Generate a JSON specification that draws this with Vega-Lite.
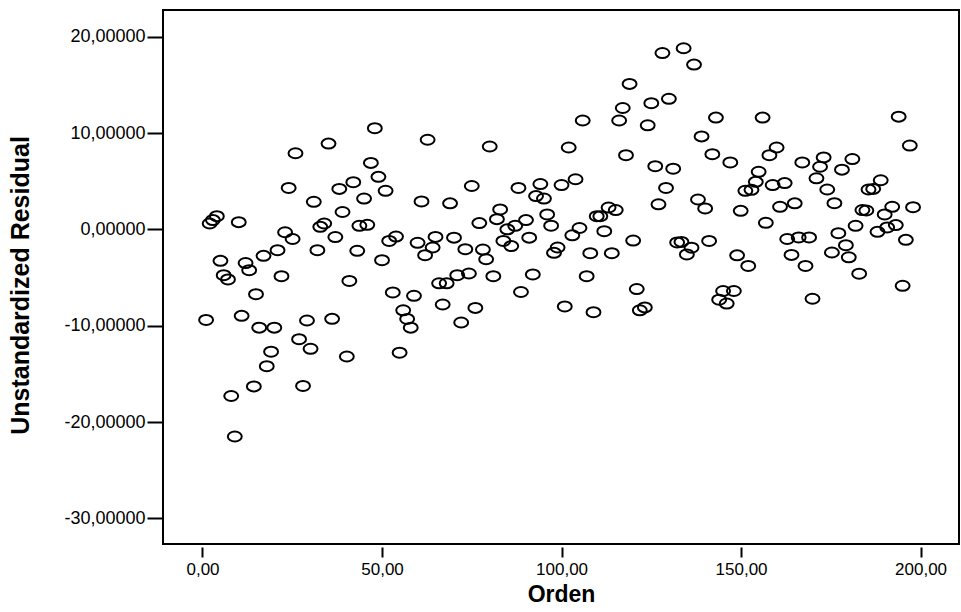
{
  "$schema": "https://vega.github.io/schema/vega-lite/v6.json",
  "width": 796,
  "height": 534,
  "autosize": {"type": "none"},
  "padding": {"left": 163, "top": 10, "right": 2, "bottom": 68},
  "background": "white",
  "config": {
    "view": {"stroke": "black", "strokeWidth": 2},
    "axis": {"labelFont": "Liberation Sans", "titleFont": "Liberation Sans", "labelColor": "black", "titleColor": "black", "tickColor": "black", "grid": false, "domain": false}
  },
  "data": {
    "values": [
      {"orden": 1.0, "resid": -9.4}, {"orden": 2.0, "resid": 0.61}, {"orden": 2.9, "resid": 0.96}, {"orden": 4.0, "resid": 1.37},
      {"orden": 5.0, "resid": -3.27}, {"orden": 5.9, "resid": -4.76}, {"orden": 7.1, "resid": -5.2}, {"orden": 8.0, "resid": -17.3},
      {"orden": 9.0, "resid": -21.5}, {"orden": 10.1, "resid": 0.75}, {"orden": 10.9, "resid": -8.98}, {"orden": 12.0, "resid": -3.5},
      {"orden": 13.0, "resid": -4.24}, {"orden": 14.3, "resid": -16.3}, {"orden": 14.9, "resid": -6.73}, {"orden": 15.8, "resid": -10.2},
      {"orden": 17.0, "resid": -2.75}, {"orden": 17.9, "resid": -14.2}, {"orden": 19.1, "resid": -12.7}, {"orden": 20.0, "resid": -10.2},
      {"orden": 20.9, "resid": -2.16}, {"orden": 22.0, "resid": -4.86}, {"orden": 23.0, "resid": -0.3}, {"orden": 24.0, "resid": 4.3},
      {"orden": 25.1, "resid": -1.0}, {"orden": 25.9, "resid": 7.9}, {"orden": 26.9, "resid": -11.4}, {"orden": 28.0, "resid": -16.25},
      {"orden": 29.1, "resid": -9.46}, {"orden": 30.1, "resid": -12.4}, {"orden": 31.0, "resid": 2.86}, {"orden": 32.0, "resid": -2.16},
      {"orden": 32.8, "resid": 0.26}, {"orden": 33.9, "resid": 0.61}, {"orden": 35.1, "resid": 8.9}, {"orden": 36.1, "resid": -9.29},
      {"orden": 37.0, "resid": -0.8}, {"orden": 38.1, "resid": 4.2}, {"orden": 39.0, "resid": 1.8}, {"orden": 40.2, "resid": -13.2},
      {"orden": 40.9, "resid": -5.35}, {"orden": 42.0, "resid": 4.9}, {"orden": 43.1, "resid": -2.23}, {"orden": 43.7, "resid": 0.37},
      {"orden": 45.0, "resid": 3.2}, {"orden": 45.9, "resid": 0.47}, {"orden": 46.9, "resid": 6.9}, {"orden": 48.0, "resid": 10.5},
      {"orden": 49.0, "resid": 5.45}, {"orden": 50.0, "resid": -3.2}, {"orden": 51.0, "resid": 4.0}, {"orden": 52.0, "resid": -1.2},
      {"orden": 53.0, "resid": -6.55}, {"orden": 53.9, "resid": -0.75}, {"orden": 54.9, "resid": -12.8}, {"orden": 55.9, "resid": -8.4},
      {"orden": 57.0, "resid": -9.3}, {"orden": 58.0, "resid": -10.2}, {"orden": 58.9, "resid": -6.9}, {"orden": 59.9, "resid": -1.4},
      {"orden": 61.0, "resid": 2.9}, {"orden": 62.0, "resid": -2.68}, {"orden": 62.7, "resid": 9.3}, {"orden": 64.1, "resid": -1.88},
      {"orden": 64.9, "resid": -0.78}, {"orden": 65.9, "resid": -5.6}, {"orden": 66.9, "resid": -7.8}, {"orden": 68.0, "resid": -5.6},
      {"orden": 68.95, "resid": 2.7}, {"orden": 70.05, "resid": -0.86}, {"orden": 70.95, "resid": -4.76}, {"orden": 72.05, "resid": -9.67},
      {"orden": 73.2, "resid": -2.06}, {"orden": 74.2, "resid": -4.58}, {"orden": 75.0, "resid": 4.5}, {"orden": 76.0, "resid": -8.15},
      {"orden": 77.1, "resid": 0.65}, {"orden": 78.1, "resid": -2.1}, {"orden": 79.0, "resid": -3.1}, {"orden": 80.0, "resid": 8.6},
      {"orden": 81.0, "resid": -4.86}, {"orden": 82.0, "resid": 1.06}, {"orden": 82.9, "resid": 2.07}, {"orden": 83.8, "resid": -1.2},
      {"orden": 84.9, "resid": 0.0}, {"orden": 86.0, "resid": -1.74}, {"orden": 87.1, "resid": 0.37}, {"orden": 88.0, "resid": 4.3},
      {"orden": 88.7, "resid": -6.5}, {"orden": 90.1, "resid": 0.96}, {"orden": 91.0, "resid": -0.86}, {"orden": 92.0, "resid": -4.68},
      {"orden": 92.9, "resid": 3.45}, {"orden": 94.1, "resid": 4.7}, {"orden": 95.1, "resid": 3.2}, {"orden": 96.0, "resid": 1.55},
      {"orden": 97.1, "resid": 0.38}, {"orden": 97.9, "resid": -2.44}, {"orden": 98.9, "resid": -1.88}, {"orden": 100.0, "resid": 4.6},
      {"orden": 100.9, "resid": -8.0}, {"orden": 102.0, "resid": 8.5}, {"orden": 103.0, "resid": -0.62}, {"orden": 103.9, "resid": 5.2},
      {"orden": 105.0, "resid": 0.14}, {"orden": 105.9, "resid": 11.3}, {"orden": 107.0, "resid": -4.86}, {"orden": 108.0, "resid": -2.47},
      {"orden": 108.9, "resid": -8.6}, {"orden": 109.8, "resid": 1.37}, {"orden": 110.8, "resid": 1.37}, {"orden": 111.9, "resid": -0.19},
      {"orden": 113.1, "resid": 2.27}, {"orden": 114.0, "resid": -2.47}, {"orden": 115.1, "resid": 2.0}, {"orden": 116.05, "resid": 11.3},
      {"orden": 117.05, "resid": 12.6}, {"orden": 117.95, "resid": 7.7}, {"orden": 118.95, "resid": 15.1}, {"orden": 119.95, "resid": -1.16},
      {"orden": 120.95, "resid": -6.2}, {"orden": 121.8, "resid": -8.4}, {"orden": 123.2, "resid": -8.1}, {"orden": 124.0, "resid": 10.8},
      {"orden": 125.0, "resid": 13.1}, {"orden": 126.1, "resid": 6.56}, {"orden": 127.0, "resid": 2.6}, {"orden": 128.1, "resid": 18.3},
      {"orden": 129.1, "resid": 4.3}, {"orden": 129.9, "resid": 13.55}, {"orden": 131.1, "resid": 6.3}, {"orden": 132.2, "resid": -1.36},
      {"orden": 133.4, "resid": -1.3}, {"orden": 134.0, "resid": 18.8}, {"orden": 134.9, "resid": -2.6}, {"orden": 136.2, "resid": -1.9},
      {"orden": 136.9, "resid": 17.1}, {"orden": 138.0, "resid": 3.1}, {"orden": 139.0, "resid": 9.65}, {"orden": 140.0, "resid": 2.17},
      {"orden": 141.1, "resid": -1.2}, {"orden": 142.0, "resid": 7.8}, {"orden": 143.0, "resid": 11.6}, {"orden": 143.9, "resid": -7.3},
      {"orden": 145.0, "resid": -6.4}, {"orden": 146.0, "resid": -7.7}, {"orden": 147.0, "resid": 6.95}, {"orden": 148.0, "resid": -6.4},
      {"orden": 148.9, "resid": -2.7}, {"orden": 149.9, "resid": 1.92}, {"orden": 151.2, "resid": 4.0}, {"orden": 152.0, "resid": -3.8},
      {"orden": 152.9, "resid": 4.1}, {"orden": 154.1, "resid": 4.93}, {"orden": 154.9, "resid": 5.97}, {"orden": 156.0, "resid": 11.6},
      {"orden": 156.9, "resid": 0.68}, {"orden": 157.9, "resid": 7.7}, {"orden": 158.8, "resid": 4.6}, {"orden": 159.9, "resid": 8.5},
      {"orden": 160.85, "resid": 2.34}, {"orden": 162.15, "resid": 4.8}, {"orden": 162.85, "resid": -1.0}, {"orden": 164.05, "resid": -2.65},
      {"orden": 164.95, "resid": 2.7}, {"orden": 166.05, "resid": -0.84}, {"orden": 167.05, "resid": 6.95}, {"orden": 167.95, "resid": -3.8},
      {"orden": 168.95, "resid": -0.84}, {"orden": 169.9, "resid": -7.2}, {"orden": 171.0, "resid": 5.3}, {"orden": 172.0, "resid": 6.5},
      {"orden": 173.0, "resid": 7.47}, {"orden": 174.0, "resid": 4.14}, {"orden": 175.3, "resid": -2.4}, {"orden": 176.0, "resid": 2.72},
      {"orden": 177.1, "resid": -0.4}, {"orden": 178.1, "resid": 6.2}, {"orden": 179.2, "resid": -1.64}, {"orden": 180.0, "resid": -2.9},
      {"orden": 181.0, "resid": 7.3}, {"orden": 181.9, "resid": 0.37}, {"orden": 182.9, "resid": -4.6}, {"orden": 183.8, "resid": 2.0},
      {"orden": 184.9, "resid": 1.96}, {"orden": 185.5, "resid": 4.14}, {"orden": 186.8, "resid": 4.2}, {"orden": 188.0, "resid": -0.26},
      {"orden": 188.9, "resid": 5.1}, {"orden": 190.0, "resid": 1.55}, {"orden": 190.7, "resid": 0.2}, {"orden": 192.1, "resid": 2.34},
      {"orden": 193.1, "resid": 0.44}, {"orden": 193.9, "resid": 11.7}, {"orden": 195.0, "resid": -5.86}, {"orden": 195.9, "resid": -1.09},
      {"orden": 197.0, "resid": 8.7}, {"orden": 197.9, "resid": 2.3}
    ]
  },
  "mark": {
    "type": "point",
    "shape": "M-1.39,0A1.39,1,0,1,1,1.39,0A1.39,1,0,1,1,-1.39,0Z",
    "filled": false,
    "stroke": "black",
    "strokeWidth": 2,
    "size": 100,
    "opacity": 1
  },
  "encoding": {
    "x": {
      "field": "orden",
      "type": "quantitative",
      "scale": {"domain": [-11.0, 210.7], "nice": false, "zero": false},
      "axis": {
        "title": "Orden",
        "values": [0, 50, 100, 150, 200],
        "labelExpr": "replace(format(datum.value, '.2f'), '.', ',')",
        "offset": 3,
        "tickSize": 10,
        "tickWidth": 2,
        "labelFontSize": 17,
        "labelPadding": 4,
        "titleFontSize": 23,
        "titleFontWeight": "bold",
        "titlePadding": 6
      }
    },
    "y": {
      "field": "resid",
      "type": "quantitative",
      "scale": {"domain": [-32.66, 22.77], "nice": false, "zero": false},
      "axis": {
        "title": "Unstandardized Residual",
        "values": [-30, -20, -10, 0, 10, 20],
        "labelExpr": "(datum.value < 0 ? '-' : '') + replace(format(abs(datum.value), '.5f'), '.', ',')",
        "tickSize": 16,
        "tickWidth": 2,
        "labelFontSize": 18,
        "labelPadding": 2,
        "titleFontSize": 25,
        "titleFontWeight": "bold",
        "titlePadding": 30,
        "titleY": 275
      }
    }
  }
}
